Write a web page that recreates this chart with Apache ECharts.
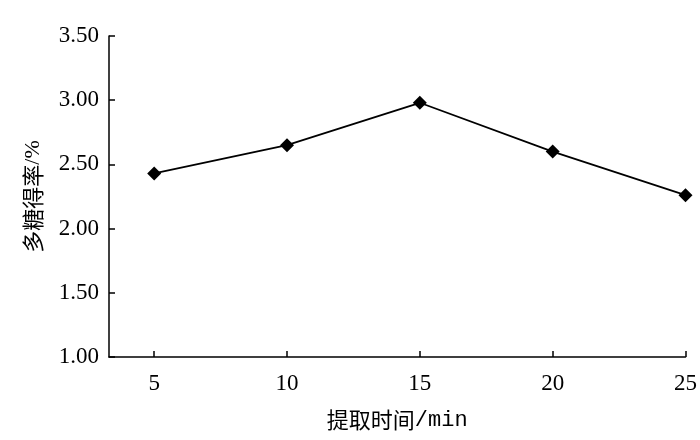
<!DOCTYPE html>
<html>
<head>
<meta charset="utf-8">
<script src="https://cdn.jsdelivr.net/npm/echarts@6/dist/echarts.min.js"></script>
<style>html,body{margin:0;padding:0;background:#fff}#c{width:700px;height:440px}</style>
</head>
<body>
<div id="c"></div>
<script>
var xValues = [5, 10, 15, 20, 25];
var yieldValues = [2.43, 2.65, 2.98, 2.60, 2.26];
var xTickValues = [5, 10, 15, 20, 25];
var yTickLabels = ['1.00', '1.50', '2.00', '2.50', '3.00', '3.50'];

var chart = echarts.init(document.getElementById('c'));
var serif = "'Liberation Serif', 'Times New Roman', serif";
chart.setOption({
  backgroundColor: '#fff',
  animation: false,
  grid: { left: 109, right: 13, top: 36, bottom: 83 },
  xAxis: {
    type: 'value',
    min: 3.3,
    max: 25,
    name: '{a|提取时间}{b|/min}',
    nameLocation: 'middle',
    nameGap: 52,
    nameTextStyle: {
      rich: {
        a: { fontFamily: "'Noto Sans CJK SC'", fontSize: 22, color: '#000' },
        b: { fontFamily: "'Liberation Mono', monospace", fontSize: 22, color: '#000' }
      }
    },
    axisLine: { show: true, lineStyle: { color: '#000', width: 1.5 } },
    axisTick: { show: true, inside: true, length: 6, customValues: xTickValues, lineStyle: { color: '#000', width: 1.5 } },
    axisLabel: { customValues: xTickValues, margin: 15, fontFamily: serif, fontSize: 23, color: '#000' },
    splitLine: { show: false }
  },
  yAxis: {
    type: 'value',
    min: 1,
    max: 3.5,
    interval: 0.5,
    name: '{a|多糖得率}{b|/%}',
    nameLocation: 'middle',
    nameGap: 65,
    nameRotate: 90,
    nameTextStyle: {
      rich: {
        a: { fontFamily: "'Noto Sans CJK SC'", fontSize: 22, color: '#000' },
        b: { fontFamily: serif, fontSize: 22, color: '#000' }
      }
    },
    axisLine: { show: true, lineStyle: { color: '#000', width: 1.5 } },
    axisTick: { show: true, inside: true, length: 6, lineStyle: { color: '#000', width: 1.5 } },
    axisLabel: {
      margin: 10, fontFamily: serif, fontSize: 23, color: '#000',
      formatter: function (v) { return yTickLabels[Math.round((v - 1) / 0.5)]; }
    },
    splitLine: { show: false }
  },
  series: [{
    type: 'line',
    data: xValues.map(function (x, i) { return [x, yieldValues[i]]; }),
    symbol: 'diamond',
    symbolSize: 14,
    lineStyle: { color: '#000', width: 1.8 },
    itemStyle: { color: '#000' }
  }]
});
</script>
</body>
</html>
